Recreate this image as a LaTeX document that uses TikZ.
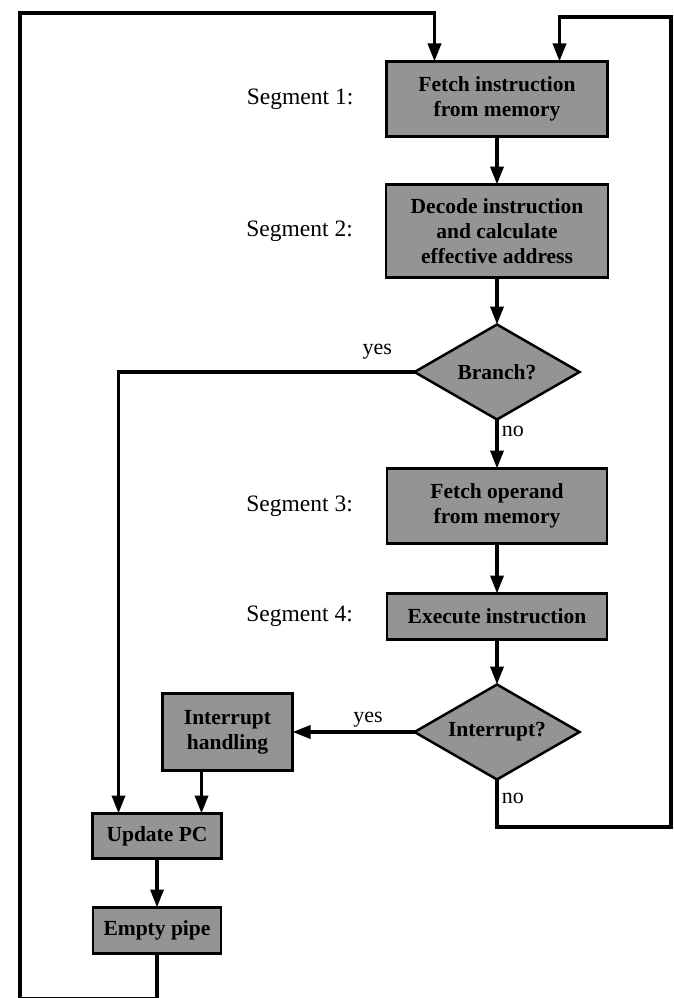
\documentclass[tikz,border=0pt]{standalone}
\usepackage{fontspec}
\setmainfont{Liberation Serif}
\usepackage{tikz}
\usetikzlibrary{positioning,arrows.meta,calc,shapes.geometric}
\definecolor{stagefill}{gray}{0.58}
\tikzset{
  stage/.style={draw=black, line width=2.5pt, fill=stagefill, align=center,
              inner sep=0pt, outer sep=0pt, font=\fontsize{21.5}{25}\selectfont\bfseries},
  test/.style={diamond, aspect=1.74, draw=black, line width=2.5pt, fill=stagefill,
              minimum width=165pt, minimum height=95pt, inner sep=0pt, outer sep=0pt,
              font=\fontsize{21.5}{25}\selectfont\bfseries},
  seglabel/.style={inner sep=0pt, font=\fontsize{23.5}{27}\selectfont},
  tag/.style={inner sep=3pt, font=\fontsize{22}{26}\selectfont},
  flow/.style={line width=3.5pt, -{Triangle[length=18pt,width=13pt]}},
}

\begin{document}
\begin{tikzpicture}[x=1pt, y={(0,-1pt)}]
\useasboundingbox (0,0) rectangle (673,998);
% pipeline column
\node[stage, minimum width=221pt, minimum height=75pt] (fetch) at (497,99)
  {Fetch instruction\\from memory};
\node[stage, minimum width=222pt, minimum height=93pt, below=48pt of fetch] (decode)
  {Decode instruction\\and calculate\\effective address};
\node[test, below=47pt of decode] (branch) {Branch?};
\node[stage, minimum width=220pt, minimum height=75pt, below=49pt of branch] (operand)
  {Fetch operand\\from memory};
\node[stage, minimum width=220pt, minimum height=46pt, below=50pt of operand] (execute)
  {Execute instruction};
\node[test, below=45pt of execute] (intr) {Interrupt?};
% left column
\node[stage, minimum width=130pt, minimum height=77pt, left=122pt of intr] (handler)
  {Interrupt\\handling};
\node[stage, minimum width=129pt, minimum height=45pt] (upc) at (157,836) {Update PC};
\node[stage, minimum width=128pt, minimum height=46pt, below=49pt of upc] (pipe)
  {Empty pipe};

\node[seglabel, left=33pt of fetch] (seg1) {Segment 1:};
\node[seglabel, left=33pt of decode] (seg2) {Segment 2:};
\node[seglabel, left=34pt of operand] (seg3) {Segment 3:};
\node[seglabel, left=34pt of execute] (seg4) {Segment 4:};

% loop ends
\coordinate (inL) at ($(fetch.north west)+(48,0)$);
\coordinate (inR) at ($(fetch.north west)+(173,0)$);
\coordinate (ltop) at (20,13);
\coordinate (lbot) at (20,999);
\coordinate (rtop) at (671,17);
\coordinate (rbot) at (671,827);
\coordinate (hdrop) at ($(handler.south west)+(39,0)$);
\coordinate (bdrop) at ($(upc.north west)+(26,0)$);

\draw[flow] (fetch) -- (decode);
\draw[flow] (decode) -- (branch);
\draw[flow] (branch) -- node[tag, right, pos=0.25]{no} (operand);
\draw[flow] (operand) -- (execute);
\draw[flow] (execute) -- (intr);
\draw[flow] (intr) -- node[tag, above, pos=0.38]{yes} (handler);
\draw[flow] (branch.west) -| node[tag, above left, pos=0.03, yshift=8pt]{yes} (bdrop);
\draw[flow] (hdrop) -- (hdrop |- upc.north);
\draw[flow] (upc) -- (pipe);
\draw[flow] (intr.south) -- node[tag, right, pos=0.4]{no} (intr.south |- rbot)
  -- (rbot) -- (rtop) -- (inR |- rtop) -- (inR);
\draw[flow] (pipe.south) -- (pipe.south |- lbot) -- (lbot) -- (ltop)
  -- (inL |- ltop) -- (inL);
\end{tikzpicture}
\end{document}
